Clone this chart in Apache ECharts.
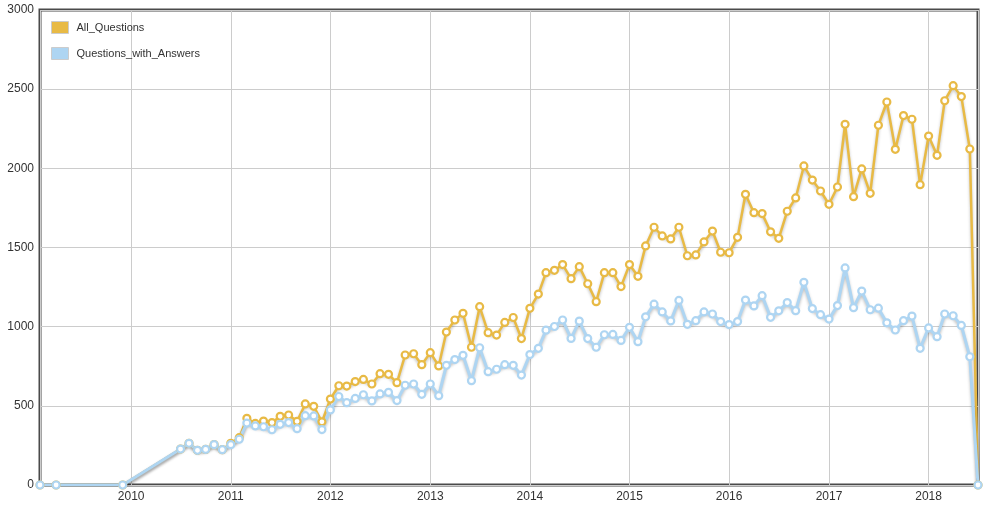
<!DOCTYPE html>
<html>
<head>
<meta charset="utf-8">
<script src="https://cdn.jsdelivr.net/npm/echarts@6/dist/echarts.min.js"></script>
<style>
html,body{margin:0;padding:0;background:#fff;}
#chart{width:992px;height:511px;}
</style>
</head>
<body>
<div id="chart"></div>
<script>
var months = [
  '2009-02-01','2009-04-01','2009-12-01',
  '2010-07-01','2010-08-01','2010-09-01','2010-10-01','2010-11-01','2010-12-01',
  '2011-01-01','2011-02-01','2011-03-01','2011-04-01','2011-05-01','2011-06-01','2011-07-01','2011-08-01','2011-09-01','2011-10-01','2011-11-01','2011-12-01',
  '2012-01-01','2012-02-01','2012-03-01','2012-04-01','2012-05-01','2012-06-01','2012-07-01','2012-08-01','2012-09-01','2012-10-01','2012-11-01','2012-12-01',
  '2013-01-01','2013-02-01','2013-03-01','2013-04-01','2013-05-01','2013-06-01','2013-07-01','2013-08-01','2013-09-01','2013-10-01','2013-11-01','2013-12-01',
  '2014-01-01','2014-02-01','2014-03-01','2014-04-01','2014-05-01','2014-06-01','2014-07-01','2014-08-01','2014-09-01','2014-10-01','2014-11-01','2014-12-01',
  '2015-01-01','2015-02-01','2015-03-01','2015-04-01','2015-05-01','2015-06-01','2015-07-01','2015-08-01','2015-09-01','2015-10-01','2015-11-01','2015-12-01',
  '2016-01-01','2016-02-01','2016-03-01','2016-04-01','2016-05-01','2016-06-01','2016-07-01','2016-08-01','2016-09-01','2016-10-01','2016-11-01','2016-12-01',
  '2017-01-01','2017-02-01','2017-03-01','2017-04-01','2017-05-01','2017-06-01','2017-07-01','2017-08-01','2017-09-01','2017-10-01','2017-11-01','2017-12-01',
  '2018-01-01','2018-02-01','2018-03-01','2018-04-01','2018-05-01','2018-06-01','2018-07-01'
];
var allQuestions = [
  0,0,0,
  227,263,219,225,255,223,
  263,299,421,389,404,394,434,442,402,512,497,399,
  543,627,625,653,667,638,703,699,646,821,829,760,
  836,752,966,1042,1084,870,1126,962,947,1027,1058,925,
  1116,1206,1341,1356,1392,1303,1379,1271,1158,1341,1341,1253,
  1392,1318,1510,1628,1573,1554,1628,1448,1453,1535,1604,1470,
  1467,1564,1836,1720,1714,1599,1558,1729,1813,2015,1926,1857,
  1773,1882,2278,1821,1996,1842,2272,2419,2120,2333,2310,1897,
  2204,2082,2427,2522,2453,2122,0
];
var withAnswers = [
  0,0,0,
  227,263,219,225,255,223,
  255,289,391,373,368,349,383,394,356,438,436,350,
  474,559,520,547,570,531,575,585,533,630,638,573,
  638,564,756,792,819,659,867,716,731,760,756,694,
  824,863,978,1001,1042,926,1035,925,870,949,951,913,
  996,905,1062,1142,1093,1036,1166,1015,1038,1093,1080,1032,
  1013,1032,1168,1131,1196,1059,1100,1152,1101,1280,1114,1076,
  1048,1133,1371,1120,1225,1107,1117,1024,979,1038,1067,863,
  992,937,1080,1069,1008,810,0
];
var seriesNames = ['All_Questions','Questions_with_Answers'];
var seriesColors = ['#E8BA45','#AED5F2'];

function pairs(vals){
  return months.map(function(m,i){ return [m, vals[i]]; });
}

var chart = echarts.init(document.getElementById('chart'), null, {renderer:'canvas'});
var YEAR = 365*24*3600*1000;
var font = '"Liberation Sans", Arial, sans-serif';

function mkSeries(name, vals, color, width){
  return {
    name: name,
    type: 'line',
    data: pairs(vals),
    showAllSymbol: true,
    symbol: 'circle',
    symbolSize: 7,
    animation: false,
    itemStyle: {color: '#fff', borderColor: color, borderWidth: 2.2},
    lineStyle: {color: color, width: width, shadowColor: 'rgba(0,0,0,0.25)', shadowBlur: 3, shadowOffsetY: 2},
    emphasis: {disabled: true}
  };
}

chart.setOption({
  backgroundColor: '#fff',
  animation: false,
  textStyle: {fontFamily: font},
  grid: {
    left: 40, right: 14, top: 10, bottom: 26,
    show: true, borderColor: '#4a4a4a', borderWidth: 3, backgroundColor: 'transparent'
  },
  legend: {
    orient: 'vertical',
    left: 46, top: 16,
    itemWidth: 17, itemHeight: 12, itemGap: 13,
    icon: 'rect',
    textStyle: {fontSize: 11, color: '#333', fontFamily: font, padding: [0,0,0,3]},
    data: [
      {name: seriesNames[0], itemStyle: {color: seriesColors[0], borderColor: '#ccc', borderWidth: 1}},
      {name: seriesNames[1], itemStyle: {color: seriesColors[1], borderColor: '#ccc', borderWidth: 1}}
    ]
  },
  xAxis: {
    type: 'time',
    min: '2009-02-01',
    max: '2018-07-01',
    minInterval: YEAR,
    maxInterval: YEAR + 24*3600*1000,
    axisLine: {show: false},
    axisTick: {show: false},
    splitLine: {show: true, lineStyle: {color: '#ccc', width: 1}},
    axisLabel: {
      color: '#333', fontSize: 12, margin: 6, fontFamily: font,
      showMinLabel: false, showMaxLabel: false,
      formatter: '{yyyy}'
    }
  },
  yAxis: {
    type: 'value',
    min: 0, max: 3000, interval: 500,
    axisLine: {show: false},
    axisTick: {show: false},
    splitLine: {show: true, lineStyle: {color: '#ccc', width: 1}},
    axisLabel: {color: '#333', fontSize: 12, margin: 6, fontFamily: font,
      formatter: function(v){ return String(v); }}
  },
  series: [
    mkSeries(seriesNames[0], allQuestions, seriesColors[0], 2.5),
    mkSeries(seriesNames[1], withAnswers, seriesColors[1], 3)
  ]
});
</script>
</body>
</html>
